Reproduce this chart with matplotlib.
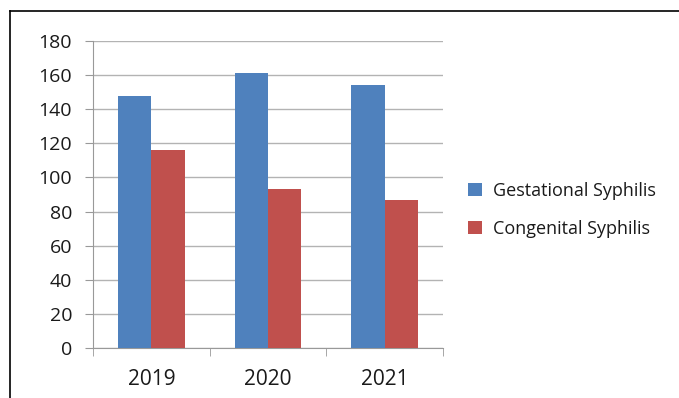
import matplotlib.pyplot as plt
import numpy as np
from matplotlib.lines import Line2D

years = ['2019', '2020', '2021']
gestational = [148, 161, 154]
congenital = [116, 93, 87]

plt.rcParams['font.family'] = ['Open Sans', 'DejaVu Sans']
plt.rcParams['text.color'] = '#1a1a1a'
plt.rcParams['xtick.labelcolor'] = '#1a1a1a'
plt.rcParams['ytick.labelcolor'] = '#1a1a1a'

fig = plt.figure(figsize=(6.79, 3.98), dpi=100)
ax = fig.add_axes([93 / 679, 1 - 348 / 398, 350 / 679, 307 / 398])

x = np.arange(len(years))
w = 0.285
b1 = ax.bar(x - w / 2, gestational, w, color='#4f81bd', label='Gestational Syphilis', zorder=3)
b2 = ax.bar(x + w / 2, congenital, w, color='#c0504d', label='Congenital Syphilis', zorder=3)

ax.set_xlim(-0.5, 2.5)
ax.set_ylim(0, 180)
ax.set_yticks(np.arange(0, 181, 20))
ax.yaxis.grid(True, color='#b3b3b3', lw=1, zorder=0)

ax.set_xticks(x)
ax.set_xticklabels(years)
ax.set_xticks([-0.5, 0.5, 1.5, 2.5], minor=True)
ax.tick_params(axis='x', which='major', length=0, pad=15, labelsize=15)
ax.tick_params(axis='x', which='minor', length=6, color='#999999', direction='out')
ax.tick_params(axis='y', length=6, color='#999999', pad=9, labelsize=14)

for s in ['top', 'right']:
    ax.spines[s].set_visible(False)
for s in ['left', 'bottom']:
    ax.spines[s].set_color('#999999')

fig.legend(handles=[b1, b2], loc='center left', bbox_to_anchor=(452 / 679, 1 - 210 / 398),
           frameon=False, fontsize=13, handlelength=0.75, handleheight=0.75,
           handletextpad=0.6, labelspacing=1.1)

# outer frame (top and left only)
fig.add_artist(Line2D([10 / 679, 1], [1 - 11 / 398, 1 - 11 / 398], color='black', lw=1.2))
fig.add_artist(Line2D([10 / 679, 10 / 679], [0, 1 - 11 / 398], color='black', lw=1.2))

fig.savefig('out.png', dpi=100)
